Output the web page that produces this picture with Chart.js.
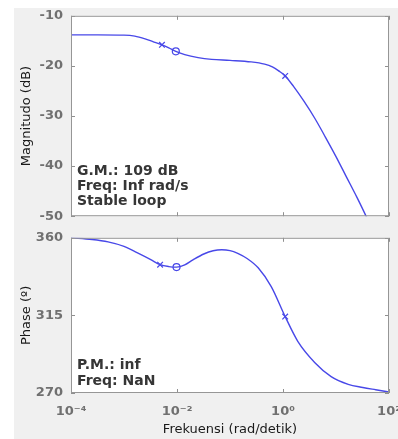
<!DOCTYPE html>
<html>
<head>
<meta charset="utf-8">
<script src="https://cdn.jsdelivr.net/npm/chart.js@4.4.0/dist/chart.umd.min.js"></script>
<style>
    body { margin: 0; background: #fff; overflow: hidden; }
    #panel { position: absolute; left: 14px; top: 8px; width: 384px; height: 431px; background: #f0f0f0; }
    canvas { position: absolute; left: 0; }
</style>
</head>
<body>
<div id="panel"></div>
<canvas id="magChart" width="420" height="232" style="top:0px"></canvas>
<canvas id="phaseChart" width="420" height="217" style="top:222px"></canvas>

<script>
// frequency axis (rad/detik)
var xTickVals = [1e-4, 1e-2, 1, 100];
var xTickLabels = ['10⁻⁴', '10⁻²', '10⁰', '10²'];

// magnitude curve
var freqMag = [1e-4, 3.2e-4, 1e-3, 1.6e-3, 2.5e-3, 3.5e-3, 5.2e-3, 7e-3, 9.5e-3, 0.014, 0.025, 0.045,
               0.1, 0.25, 0.45, 0.63, 0.83, 1.1, 1.58, 2.5, 4, 6.3, 10, 15.8, 25, 37, 56];
var magDb = [-13.8, -13.8, -13.85, -14.05, -14.6, -15.15, -15.8, -16.4, -17.1, -17.75, -18.35, -18.7,
             -18.9, -19.2, -19.65, -20.2, -21.0, -22.0, -24.1, -27.1, -30.5, -34.2, -38.1, -42.2, -46.3, -50.0, -54.0];
var magCrossF = [5.2e-3, 1.1];
var magCrossDb = [-15.8, -22.0];
var magCircleF = [9.5e-3];
var magCircleDb = [-17.1];

// phase curve
var freqPhase = [1e-4, 2.5e-4, 5e-4, 1e-3, 1.8e-3, 3.2e-3, 4.8e-3, 7e-3, 9.8e-3, 0.014, 0.02, 0.032, 0.048,
                 0.07, 0.1, 0.14, 0.21, 0.34, 0.6, 1.1, 1.9, 4, 8.1, 17, 32, 56, 100];
var phaseDeg = [360, 359, 357.6, 355, 351.2, 347.3, 344.4, 343.3, 343, 344.3, 347.2, 350.6, 352.5,
                353.1, 352.6, 351, 348, 342.6, 331.7, 314.3, 300, 287.6, 279.5, 275, 273.2, 271.9, 270.6];
var phaseCrossF = [4.8e-3, 1.1];
var phaseCrossDeg = [344.4, 314.3];
var phaseCircleF = [9.8e-3];
var phaseCircleDeg = [343];

var magNotes = ['G.M.: 109 dB', 'Freq: Inf rad/s', 'Stable loop'];
var phaseNotes = ['P.M.: inf', 'Freq: NaN'];

var lineColor = 'rgb(72,72,232)';
var tickFont = { family: 'DejaVu Sans', size: 13, weight: 'bold' };
var titleFont = { family: 'DejaVu Sans', size: 13 };

function pts(xs, ys) {
    return xs.map(function (x, i) { return { x: x, y: ys[i] }; });
}

function datasets(fx, fy, cx, cy, ox, oy) {
    return [
        { data: pts(fx, fy), borderColor: lineColor, borderWidth: 1.4, pointRadius: 0, cubicInterpolationMode: 'monotone' },
        { data: pts(cx, cy), showLine: false, pointStyle: 'crossRot', pointRadius: 4, borderColor: lineColor, borderWidth: 1.2 },
        { data: pts(ox, oy), showLine: false, pointStyle: 'circle', pointRadius: 3.5, borderColor: lineColor,
          backgroundColor: 'rgba(0,0,0,0)', pointBackgroundColor: 'rgba(0,0,0,0)', borderWidth: 1.2 }
    ];
}

// white plot box, inward ticks, notes
function boxPlugin(notes, offsets) {
    return {
        id: 'box',
        beforeDatasetsDraw: function (chart) {
            var a = chart.chartArea, ctx = chart.ctx;
            ctx.save();
            ctx.fillStyle = '#ffffff';
            ctx.fillRect(a.left, a.top, a.right - a.left, a.bottom - a.top);
            ctx.restore();
        },
        afterDatasetsDraw: function (chart) {
            var a = chart.chartArea, ctx = chart.ctx;
            var xs = chart.scales.x, ys = chart.scales.y;
            ctx.save();
            ctx.strokeStyle = '#8f8f8f';
            ctx.lineWidth = 1;
            ctx.beginPath();
            xTickVals.forEach(function (v) {
                var px = Math.round(xs.getPixelForValue(v)) + 0.5;
                ctx.moveTo(px, a.top); ctx.lineTo(px, a.top + 4);
                ctx.moveTo(px, a.bottom); ctx.lineTo(px, a.bottom - 4);
            });
            ys.ticks.forEach(function (t) {
                var py = Math.round(ys.getPixelForValue(t.value)) + 0.5;
                ctx.moveTo(a.left, py); ctx.lineTo(a.left + 4, py);
                ctx.moveTo(a.right, py); ctx.lineTo(a.right - 4, py);
            });
            ctx.stroke();
            ctx.strokeStyle = '#969696';
            ctx.strokeRect(a.left + 0.5, a.top + 0.5, a.right - a.left - 1, a.bottom - a.top - 1);
            ctx.fillStyle = '#363636';
            ctx.font = 'bold 14px "DejaVu Sans"';
            ctx.textBaseline = 'middle';
            notes.forEach(function (s, i) {
                ctx.fillText(s, a.left + 6, a.bottom - offsets[i]);
            });
            ctx.restore();
        }
    };
}

function yAxis(min, max, step, title) {
    return {
        min: min, max: max,
        grid: { display: false, drawTicks: false },
        border: { display: false },
        ticks: { stepSize: step, padding: 8, color: '#707070', font: tickFont },
        title: { display: true, text: title, color: '#1a1a1a', font: titleFont, padding: { top: 19, bottom: 0 } },
        afterFit: function (s) { s.width = 71; }
    };
}

var common = {
    responsive: false,
    animation: false,
    events: [],
    plugins: { legend: { display: false }, tooltip: { enabled: false } }
};

new Chart('magChart', {
    type: 'line',
    data: { datasets: datasets(freqMag, magDb, magCrossF, magCrossDb, magCircleF, magCircleDb) },
    options: Object.assign({}, common, {
        layout: { padding: { left: 0, top: 15, right: 31, bottom: 15 } },
        scales: {
            x: { type: 'logarithmic', min: 1e-4, max: 100, display: false },
            y: yAxis(-50, -10, 10, 'Magnitudo (dB)')
        }
    }),
    plugins: [boxPlugin(magNotes, [45, 30, 15])]
});

new Chart('phaseChart', {
    type: 'line',
    data: { datasets: datasets(freqPhase, phaseDeg, phaseCrossF, phaseCrossDeg, phaseCircleF, phaseCircleDeg) },
    options: Object.assign({}, common, {
        layout: { padding: { left: 0, top: 9, right: 31, bottom: 0 } },
        scales: {
            x: {
                type: 'logarithmic', min: 1e-4, max: 100,
                grid: { display: false, drawTicks: false },
                border: { display: false },
                afterBuildTicks: function (s) { s.ticks = xTickVals.map(function (v) { return { value: v }; }); },
                ticks: {
                    autoSkip: false, maxRotation: 0, padding: 11, color: '#707070', font: tickFont,
                    callback: function (v) { var i = xTickVals.indexOf(v); return i < 0 ? '' : xTickLabels[i]; }
                },
                title: { display: true, text: 'Frekuensi (rad/detik)', color: '#1a1a1a', font: titleFont, padding: { top: 0, bottom: 2 } },
                afterFit: function (s) { s.height = 46; }
            },
            y: yAxis(270, 360, 45, 'Phase (º)')
        }
    }),
    plugins: [boxPlugin(phaseNotes, [27.5, 11.5])]
});
</script>
</body>
</html>
